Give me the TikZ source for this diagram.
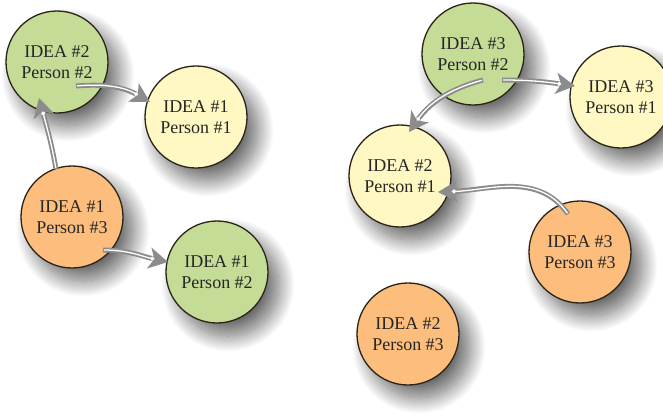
\documentclass[tikz,border=0pt]{standalone}
\usepackage{fontspec}
\setmainfont{Liberation Serif}
\usetikzlibrary{shadows.blur,arrows.meta}

\definecolor{leaf}{HTML}{C5DC96}
\definecolor{cream}{HTML}{FFF8C2}
\definecolor{apricot}{HTML}{FDBE7D}
\definecolor{rim}{HTML}{2A2418}
\definecolor{flowgray}{HTML}{8C8C8C}

\tikzset{
  idea/.style={circle, draw=rim, line width=1.3pt, minimum size=102pt, inner sep=0pt,
    align=center, font=\fontsize{18}{21}\selectfont, text=black!85,
    blur shadow={shadow xshift=11pt, shadow yshift=-13pt, shadow blur radius=16pt,
      shadow blur steps=28, shadow opacity=60}},
  green/.style={idea, fill=leaf},
  yellow/.style={idea, fill=cream},
  orange/.style={idea, fill=apricot},
  flowbody/.style={draw=flowgray, line width=5pt,
    -{Stealth[length=19pt,width=21pt,inset=5pt,fill=flowgray]}},
  flowlight/.style={draw=white, line width=1.3pt, shorten <=1pt, shorten >=14pt,
    -{Circle[length=4pt,fill=white]}},
}

\newcommand{\flowarrow}[3]{%
  \draw[flowbody] (#1) to[#3] (#2);
  \draw[flowlight] (#1) to[#3] (#2);
}

\begin{document}
\begin{tikzpicture}[x=1pt,y=1pt]
\useasboundingbox (0,0) rectangle (663,-416);

% left cluster
\node[green]  (i2p2) at (57,-62)  {IDEA \#2\\Person \#2};
\node[yellow] (i1p1) at (196,-117) {IDEA \#1\\Person \#1};
\node[orange] (i1p3) at (72,-217) {IDEA \#1\\Person \#3};
\node[green]  (i1p2) at (217,-272) {IDEA \#1\\Person \#2};

% right cluster
\node[green]  (i3p2) at (473,-54)  {IDEA \#3\\Person \#2};
\node[yellow] (i3p1) at (621,-97)  {IDEA \#3\\Person \#1};
\node[yellow] (i2p1) at (400,-176) {IDEA \#2\\Person \#1};
\node[orange] (i3p3) at (580,-252) {IDEA \#3\\Person \#3};
\node[orange] (i2p3) at (408,-334) {IDEA \#2\\Person \#3};

% arrow end points
\coordinate (s1) at (76,-86);   \coordinate (e1) at (150,-102);
\coordinate (s2) at (56,-169);  \coordinate (e2) at (39,-98);
\coordinate (s3) at (103,-250); \coordinate (e3) at (168,-262);
\coordinate (s4) at (502,-80);  \coordinate (e4) at (575,-86);
\coordinate (s5) at (483,-80);  \coordinate (e5) at (409,-132);
\coordinate (s6) at (568,-214); \coordinate (e6) at (438,-192);

\flowarrow{s1}{e1}{out=5,in=150}
\flowarrow{s2}{e2}{out=100,in=-75}
\flowarrow{s3}{e3}{out=0,in=168}
\flowarrow{s4}{e4}{out=0,in=172}
\flowarrow{s5}{e5}{out=195,in=55}
\flowarrow{s6}{e6}{out=125,in=2}
\end{tikzpicture}
\end{document}
